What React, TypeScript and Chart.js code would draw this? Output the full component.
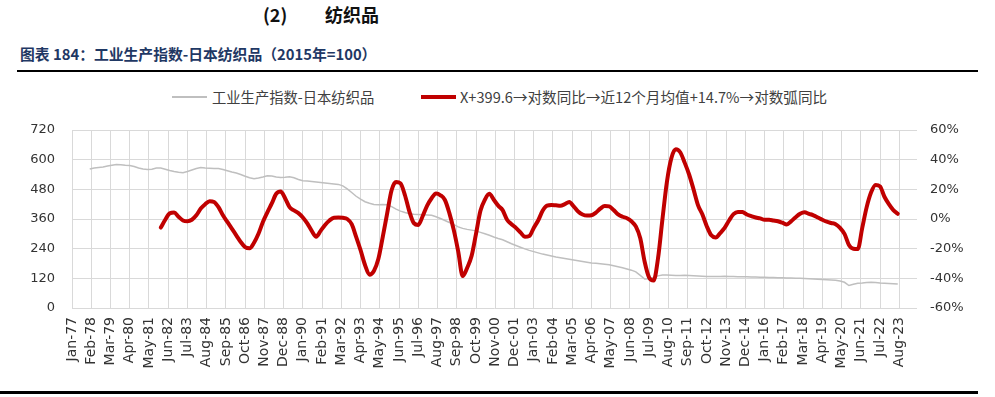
import React, { useEffect, useRef } from 'react';
import { Chart, registerables } from 'chart.js';

Chart.register(...registerables);

// ---- axis categories (monthly, Jan-77 .. Aug-24) ----
const MONTH_NAMES = ['Jan', 'Feb', 'Mar', 'Apr', 'May', 'Jun', 'Jul', 'Aug', 'Sep', 'Oct', 'Nov', 'Dec'];
const START_YEAR = 1977;
const MONTH_COUNT = 572;
const categories: string[] = Array.from({ length: MONTH_COUNT }, (_, i) =>
  `${MONTH_NAMES[i % 12]}-${String((START_YEAR + Math.floor(i / 12)) % 100).padStart(2, '0')}`
);

// shown tick labels (every 13 months)
const TICK_EVERY = 13;
const tickLabels = [
  'Jan-77', 'Feb-78', 'Mar-79', 'Apr-80', 'May-81', 'Jun-82', 'Jul-83', 'Aug-84', 'Sep-85', 'Oct-86',
  'Nov-87', 'Dec-88', 'Jan-90', 'Feb-91', 'Mar-92', 'Apr-93', 'May-94', 'Jun-95', 'Jul-96', 'Aug-97',
  'Sep-98', 'Oct-99', 'Nov-00', 'Dec-01', 'Jan-03', 'Feb-04', 'Mar-05', 'Apr-06', 'May-07', 'Jun-08',
  'Jul-09', 'Aug-10', 'Sep-11', 'Oct-12', 'Nov-13', 'Dec-14', 'Jan-16', 'Feb-17', 'Mar-18', 'Apr-19',
  'May-20', 'Jun-21', 'Jul-22', 'Aug-23',
];

const leftTicks = { min: 0, max: 720, step: 120 };
const rightTicks = { min: -60, max: 60, step: 20 };

// ---- series (quarterly readings) ----
const seriesGrayName = '工业生产指数-日本纺织品';
const grayStart = 'Jan-78';
const grayStep = 3;
const grayValues = [
  562, 566, 568, 570, 574, 577, 580, 579, 577, 576, 572, 566, 562, 560, 561, 566,
  566, 561, 556, 552, 549, 547, 552, 558, 564, 568, 566, 565, 564, 564, 560, 555,
  550, 546, 540, 533, 527, 523, 526, 530, 535, 534, 530, 528, 529, 531, 527, 520,
  515, 514, 512, 510, 508, 506, 504, 502, 500, 494, 482, 467, 452, 440, 430, 424,
  419, 418, 419, 418, 410, 400, 392, 386, 381, 379, 378, 377, 376, 375, 369, 362,
  354, 346, 337, 328, 322, 318, 315, 312, 306, 300, 294, 287, 281, 276, 268, 260,
  253, 246, 239, 233, 228, 223, 218, 214, 210, 206, 203, 200, 197, 194, 191, 188,
  185, 182, 181, 179, 177, 175, 171, 167, 163, 158, 153, 146, 132, 117, 118, 124,
  130, 133, 133, 132, 131, 131, 132, 131, 130, 129, 128, 127, 127, 127, 127, 128,
  127, 127, 126, 126, 126, 125, 125, 124, 124, 123, 123, 122, 122, 121, 121, 120,
  120, 119, 118, 117, 116, 115, 114, 113, 112, 109, 104, 91, 96, 100, 101, 103,
  104, 103, 101, 100, 99, 98, 97,
];

const seriesRedName = 'X+399.6→对数同比→近12个月均值+14.7%→对数弧同比';
const redStart = 'Jan-82';
const redStep = 3;
const redValues = [
  -5.8, -0.5, 3.8, 4.3, 1.5, -1, -1.5, -0.5, 2.5, 7, 10, 12, 11.5, 8, 2.5, -2,
  -6.5, -11, -15.5, -19, -19.8, -16, -10, -2, 4.5, 10.5, 17, 18.5, 14, 8, 5.8, 4,
  1, -3, -8, -11.9, -8, -4, -1, 0.9, 1, 0.8, 0, -3.5, -12, -21, -31, -37.5,
  -35, -27, -12, 4, 19.6, 25, 24, 16, 5, -2.8, -4, 2, 9, 14, 17.2, 16,
  12.8, 4, -7.5, -22, -38.5, -33, -25, -10, 5.5, 13, 17, 13, 9, 6, -0.5, -3.5,
  -6, -9, -12, -11.5, -6, -1, 5.5, 9, 9.4, 9.2, 9, 10, 11.5, 8.5, 5, 3,
  2.3, 2.5, 4.3, 7, 8.8, 8.5, 6, 3.1, 1.5, 0.5, -1.5, -5, -13, -29, -39.5, -41.5,
  -26.5, 0, 25, 41, 47, 45, 38, 30, 20, 9.4, 3, -5, -11, -12.5, -9.5, -6,
  -1, 3.3, 4.8, 4.7, 3, 2, 1, 0.4, -0.5, -0.5, -1, -1.5, -2.5, -3.7, -1.5, 1.2,
  3.5, 4.5, 3.5, 2.5, 1, -0.5, -1.8, -2.7, -3.5, -6, -10, -17.5, -20, -20.2, -6, 8,
  18, 23, 22, 15, 10, 6, 3.5,
];

function placeOnMonths(startLabel: string, step: number, values: number[]): (number | null)[] {
  const arr: (number | null)[] = new Array(MONTH_COUNT).fill(null);
  const s = categories.indexOf(startLabel);
  values.forEach((v, i) => {
    arr[s + i * step] = v;
  });
  return arr;
}

const AXIS_FONT = { family: '"DejaVu Sans", sans-serif', size: 13 };
const X_FONT = { family: '"DejaVu Sans", sans-serif', size: 14 };
const AXIS_COLOR = '#333333';
const GRID_COLOR = '#D9D9D9';

export default function App() {
  const canvasRef = useRef<HTMLCanvasElement | null>(null);

  useEffect(() => {
    const canvas = canvasRef.current;
    if (!canvas) return;
    const chart = new Chart(canvas, {
      type: 'line',
      data: {
        labels: categories,
        datasets: [
          {
            label: seriesGrayName,
            data: placeOnMonths(grayStart, grayStep, grayValues),
            borderColor: '#BFBFBF',
            borderWidth: 1.5,
            pointRadius: 0,
            spanGaps: true,
            tension: 0,
            yAxisID: 'y',
            order: 2,
          },
          {
            label: seriesRedName,
            data: placeOnMonths(redStart, redStep, redValues),
            borderColor: '#C00000',
            borderWidth: 4,
            pointRadius: 0,
            spanGaps: true,
            cubicInterpolationMode: 'monotone',
            borderCapStyle: 'round',
            borderJoinStyle: 'round',
            yAxisID: 'y1',
            order: 1,
          },
        ],
      },
      options: {
        responsive: false,
        animation: false,
        events: [],
        layout: { padding: { top: 50, left: 0, right: 0, bottom: 0 } },
        plugins: { legend: { display: false }, tooltip: { enabled: false }, title: { display: false } },
        scales: {
          x: {
            type: 'category',
            offset: false,
            border: { display: false },
            grid: {
              drawTicks: false,
              lineWidth: 1,
              color: (ctx: any) => (ctx.index % TICK_EVERY === 0 ? GRID_COLOR : 'rgba(0,0,0,0)'),
            },
            ticks: {
              autoSkip: false,
              minRotation: 90,
              maxRotation: 90,
              padding: 9,
              font: X_FONT,
              color: AXIS_COLOR,
              callback: (_v: any, i: number) => (i % TICK_EVERY === 0 ? tickLabels[i / TICK_EVERY] ?? '' : ''),
            },
            afterFit: (s: any) => {
              s.height = 72;
            },
          },
          y: {
            position: 'left',
            min: leftTicks.min,
            max: leftTicks.max,
            border: { display: false },
            grid: { color: GRID_COLOR, drawTicks: false, lineWidth: 1 },
            ticks: { stepSize: leftTicks.step, padding: 17, font: AXIS_FONT, color: AXIS_COLOR },
            afterFit: (s: any) => {
              s.width = 72;
            },
          },
          y1: {
            position: 'right',
            min: rightTicks.min,
            max: rightTicks.max,
            border: { display: false },
            grid: { display: false, drawTicks: false },
            ticks: {
              stepSize: rightTicks.step,
              padding: 13,
              font: AXIS_FONT,
              color: AXIS_COLOR,
              callback: (v: any) => `${v}%`,
            },
            afterFit: (s: any) => {
              s.width = 78;
            },
          },
        },
      },
    } as any);
    return () => chart.destroy();
  }, []);

  const cjk = '"Noto Sans CJK SC", "Noto Sans", sans-serif';

  return (
    <div style={{ position: 'absolute', left: 0, top: 0, width: 995, height: 397, background: '#fff', overflow: 'hidden', fontFamily: cjk }}>
      <div style={{ position: 'absolute', left: 263, top: 2, fontSize: 18, fontWeight: 700, color: '#111', lineHeight: '24px', whiteSpace: 'nowrap' }}>
        (2)
      </div>
      <div style={{ position: 'absolute', left: 325, top: 2, fontSize: 18, fontWeight: 700, color: '#111', lineHeight: '24px', whiteSpace: 'nowrap' }}>
        纺织品
      </div>
      <div style={{ position: 'absolute', left: 20, top: 44, fontSize: 14.8, fontWeight: 700, color: '#1F3864', lineHeight: '20px', whiteSpace: 'nowrap' }}>
        图表 184：工业生产指数-日本纺织品（2015年=100）
      </div>
      <div style={{ position: 'absolute', left: 17, top: 70, width: 961, height: 1.5, background: '#000' }} />

      {/* legend */}
      <div style={{ position: 'absolute', left: 172, top: 96, width: 35, height: 2, background: '#BFBFBF' }} />
      <div style={{ position: 'absolute', left: 212, top: 87, fontSize: 14.3, color: '#404040', lineHeight: '20px', whiteSpace: 'nowrap' }}>
        {seriesGrayName}
      </div>
      <div style={{ position: 'absolute', left: 421, top: 95, width: 35, height: 4, background: '#C00000' }} />
      <div style={{ position: 'absolute', left: 460, top: 87, fontSize: 14.6, color: '#404040', lineHeight: '20px', whiteSpace: 'nowrap' }}>
        {seriesRedName}
      </div>

      <div style={{ position: 'absolute', left: 0, top: 80, width: 995, height: 300 }}>
        <canvas ref={canvasRef} width={995} height={300} style={{ width: 995, height: 300, display: 'block' }} />
      </div>

      <div style={{ position: 'absolute', left: 0, top: 391, width: 978, height: 3, background: '#000' }} />
    </div>
  );
}
